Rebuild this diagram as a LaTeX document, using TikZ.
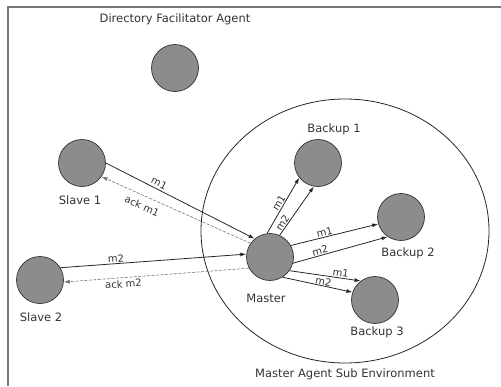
\documentclass[tikz,border=0pt]{standalone}
\usepackage{fontspec}
\setmainfont{DejaVu Sans}
\usetikzlibrary{arrows.meta}
\definecolor{agentgray}{RGB}{140,140,140}
\definecolor{framegray}{RGB}{120,120,120}
\begin{document}
\begin{tikzpicture}[x=1pt,y=-1pt,
  agent/.style={circle, draw=black!80, fill=agentgray, line width=0.7pt,
    minimum size=47pt, inner sep=0pt},
  msg/.style={draw=black!85, line width=0.8pt, -{Latex[length=6pt,width=4pt]}},
  ack/.style={draw=black!55, line width=0.6pt, dash pattern=on 3pt off 1.5pt,
    -{Latex[length=6pt,width=4pt]}},
  lbl/.style={font=\fontsize{10}{12}\selectfont, text=black!80, inner sep=1pt, sloped},
  agentname/.style={font=\fontsize{11.5}{13}\selectfont, text=black!80}]
\useasboundingbox (0,0) rectangle (501,386);

% outer frame
\draw[framegray, line width=1.5pt] (8,386) -- (8,7) -- (501,7);

% sub environment of the master agent
\draw[line width=0.8pt, black!85] (345,231) ellipse [x radius=144pt, y radius=132pt];

% agents
\node[agent] (df) at (175,68) {};
\node[agent] (s1) at (82,163) {};
\node[agent] (s2) at (40,280) {};
\node[agent] (m)  at (270,257) {};
\node[agent] (b1) at (318,163) {};
\node[agent] (b2) at (401,217) {};
\node[agent] (b3) at (375,300) {};

% captions
\node[agentname] (dft)  at (175,19)  {Directory Facilitator Agent};
\node[agentname] (s1t)  at (80,200)  {Slave 1};
\node[agentname] (s2t)  at (41,317)  {Slave 2};
\node[agentname] (mt)   at (266,298) {Master};
\node[agentname] (b1t)  at (334,129) {Backup 1};
\node[agentname] (b2t)  at (408,253) {Backup 2};
\node[agentname] (b3t)  at (377,332) {Backup 3};
\node[agentname] (envt) at (345,374) {Master Agent Sub Environment};

% slaves <-> master
\draw[msg] (s1.0) -- node[lbl, pos=0.34, above=1pt] {m1} (m.130);
\draw[ack] (m.145) -- node[lbl, pos=0.7, below=5pt] {ack m1} (s1.-35);
\draw[msg] (s2.31) -- node[lbl, pos=0.3, above] {m2} (m.173);
\draw[ack] (m.208) -- node[lbl, pos=0.68, below=1pt] {ack m2} (s2.-5);

% master -> backups
\draw[msg] (m.97) -- node[lbl, pos=0.5, above] {m1} (b1.218);
\draw[msg] (m.66) -- node[lbl, pos=0.2, above] {m2} (b1.260);
\draw[msg] (m.29.5) -- node[lbl, pos=0.4, above] {m1} (b2.197);
\draw[msg] (m.-15) -- node[lbl, pos=0.3, above] {m2} (b2.236);
\draw[msg] (m.-35) -- node[lbl, pos=0.71, above] {m1} (b3.127);
\draw[msg] (m.-58) -- node[lbl, pos=0.57, above, inner sep=0.5pt] {m2} (b3.161);
\end{tikzpicture}
\end{document}
